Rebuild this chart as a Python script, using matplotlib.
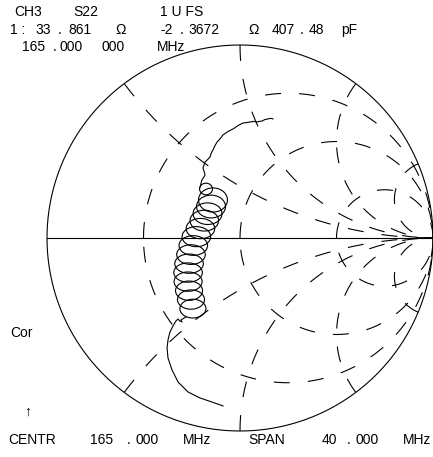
import numpy as np
import matplotlib
matplotlib.use("Agg")
import matplotlib.pyplot as plt
from matplotlib.patches import Ellipse

plt.rcParams['font.family'] = ['Liberation Sans', 'DejaVu Sans']
plt.rcParams['lines.scale_dashes'] = False

W, H = 433, 457

# smith chart grid values
r_circles = [1/3, 1, 3]
x_arcs = [0.5, 1, 2, 5]

# measured trace (reflection coefficient, real / imag)
upper_re = [0.171, 0.158, 0.145, 0.130, 0.114, 0.100, 0.088, 0.070, 0.052, 0.034, 0.016,
            -0.010, -0.036, -0.062, -0.088, -0.104, -0.119, -0.130, -0.140, -0.150,
            -0.155, -0.170, -0.181, -0.192, -0.186, -0.181, -0.197, -0.202, -0.207]
upper_im = [0.617, 0.620, 0.617, 0.614, 0.606, 0.604, 0.601, 0.604, 0.601, 0.598, 0.596,
            0.583, 0.565, 0.552, 0.534, 0.513, 0.497, 0.478, 0.456, 0.438,
            0.420, 0.404, 0.394, 0.363, 0.345, 0.326, 0.301, 0.283, 0.264]

# loops around the marker frequency: centre, width, height
loop_re = [-0.176, -0.140, -0.150, -0.168, -0.185, -0.205, -0.226, -0.242,
           -0.254, -0.264, -0.269, -0.269, -0.264, -0.254, -0.244]
loop_im = [0.254, 0.197, 0.163, 0.126, 0.090, 0.049, 0.007, -0.039,
           -0.086, -0.133, -0.179, -0.226, -0.273, -0.319, -0.366]
loop_w = [0.067, 0.150, 0.150, 0.150, 0.148, 0.148, 0.148, 0.148,
          0.148, 0.148, 0.148, 0.145, 0.140, 0.140, 0.135]
loop_h = [0.060, 0.125, 0.118, 0.112, 0.108, 0.105, 0.104, 0.102,
          0.102, 0.100, 0.100, 0.100, 0.100, 0.100, 0.097]

lower_re = [-0.280, -0.295, -0.306, -0.300, -0.312, -0.321, -0.332, -0.347, -0.363,
            -0.373, -0.378, -0.373, -0.352, -0.321, -0.269, -0.207, -0.145, -0.088]
lower_im = [-0.409, -0.418, -0.425, -0.435, -0.430, -0.420, -0.430, -0.456, -0.487,
            -0.528, -0.570, -0.622, -0.684, -0.746, -0.798, -0.829, -0.850, -0.870]

DASH = (0, (11.5, 13))
LW = 0.8

fig = plt.figure(figsize=(W / 100, H / 100), dpi=100)
ax = fig.add_axes([47 / W, 26 / H, 386 / W, 386 / H])
ax.set_xlim(-1, 1)
ax.set_ylim(-1, 1)
ax.axis('off')

# outer circle and real axis
t = np.linspace(0, 2 * np.pi, 721)
ax.plot(np.cos(t), np.sin(t), color='black', lw=LW, clip_on=False)
ax.plot([-1, 1], [0, 0], color='black', lw=LW, clip_on=False)

# constant resistance circles
for r in r_circles:
    c, rad = r / (1 + r), 1 / (1 + r)
    th = np.linspace(np.pi, -np.pi, 600)
    ax.plot(c + rad * np.cos(th), rad * np.sin(th), color='black', lw=LW, ls=DASH)

# constant reactance arcs
for x in x_arcs:
    rad = 1 / x
    g0 = ((x * x - 1) / (x * x + 1), 2 * x / (x * x + 1))
    a0 = np.arctan2(g0[1] - rad, g0[0] - 1)
    if a0 < 0:
        a0 += 2 * np.pi
    th = np.linspace(a0, 1.5 * np.pi, 400)
    for s in (1, -1):
        ax.plot(1 + rad * np.cos(th), s * (rad + rad * np.sin(th)),
                color='black', lw=LW, ls=DASH)

# trace
ax.plot(upper_re, upper_im, color='black', lw=LW)
for cx, cy, w, h in zip(loop_re, loop_im, loop_w, loop_h):
    ax.add_patch(Ellipse((cx, cy), w, h, fill=False, ec='black', lw=LW))
ax.plot(lower_re, lower_im, color='black', lw=LW)


def txt(px, py, s):
    fig.text(px / W, 1 - py / H, s, fontsize=10, ha='left', va='center')


for px, py, s in [(14, 12, 'CH3'), (73, 12, 'S22'), (160, 12, '1 U FS'),
                  (10, 30, '1 :'), (35, 30, '33'), (58, 30, '.'), (68, 30, '861'),
                  (115, 30, '\u03a9'), (160, 30, '-2'), (180, 30, '.'), (188, 30, '3672'),
                  (248, 30, '\u03a9'), (272, 30, '407'), (300, 30, '.'), (309, 30, '48'),
                  (341, 30, 'pF'),
                  (22, 47, '165'), (53, 47, '.'), (60, 47, '000'), (102, 47, '000'),
                  (157, 47, 'MHz'),
                  (10, 333, 'Cor'), (24, 412, '\u2191'),
                  (8, 440, 'CENTR'), (90, 440, '165'), (127, 440, '.'), (135, 440, '000'),
                  (183, 440, 'MHz'), (248, 440, 'SPAN'), (322, 440, '40'), (347, 440, '.'),
                  (355, 440, '000'), (403, 440, 'MHz')]:
    txt(px, py, s)

fig.savefig('out.png', dpi=100)
